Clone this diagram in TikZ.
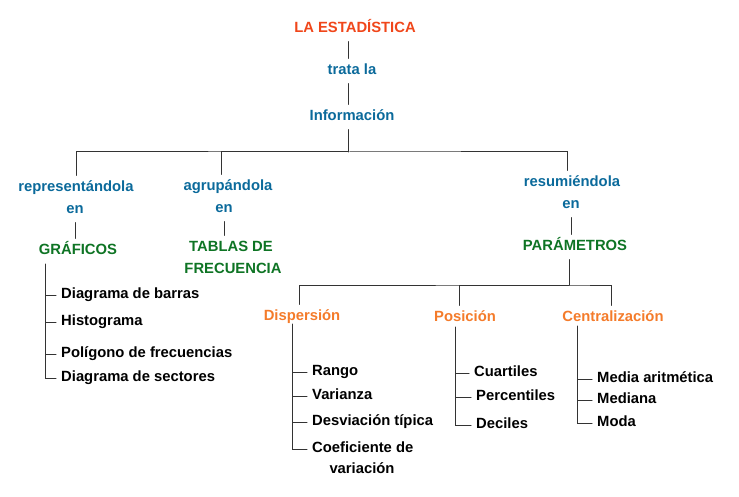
\documentclass[tikz,border=0pt]{standalone}
\usepackage{fontspec}
\setmainfont{Liberation Sans}
\usepackage{tikz}
\usepackage{xcolor}
\definecolor{rojo}{HTML}{F0461A}
\definecolor{azul}{HTML}{0B6A9B}
\definecolor{verde}{HTML}{0E7424}
\definecolor{naranja}{HTML}{F47B2A}
\begin{document}
\begin{tikzpicture}[x=1pt,y=-1pt,line cap=round,
  txt/.style={font=\fontsize{14.8}{17}\selectfont\bfseries,inner xsep=2pt,inner ysep=5.5pt,text height=10.6pt,text depth=3.1pt},
  titulo/.style={txt,text=rojo},
  verbo/.style={txt,text=azul},
  grupo/.style={txt,text=verde},
  tipo/.style={txt,text=naranja},
  hoja/.style={txt,anchor=west,inner xsep=5pt},
  rama/.style={draw=black!80,line width=1pt}]
\useasboundingbox (0,0) rectangle (739,497);
\node[titulo] (estadistica) at (355,29) {LA ESTADÍSTICA};
\node[verbo] (trata) at (352,71) {trata la};
\node[verbo] (informacion) at (352,117) {Información};
\node[verbo] (representa) at (76,188) {representándola};
\node[verbo] (en1) at (75,210) {en};
\node[grupo] (graficos) at (78,251) {GRÁFICOS};
\node[verbo] (agrupa) at (228,187) {agrupándola};
\node[verbo] (en2) at (224,209) {en};
\node[grupo] (tablas) at (231,248) {TABLAS DE};
\node[grupo] (frecuencia) at (233,270) {FRECUENCIA};
\node[verbo] (resume) at (572,183) {resumiéndola};
\node[verbo] (en3) at (571,205) {en};
\node[grupo] (parametros) at (575,247) {PARÁMETROS};
\node[tipo] (dispersion) at (302,317) {Dispersión};
\node[tipo] (posicion) at (465,318) {Posición};
\node[tipo] (centralizacion) at (613,318) {Centralización};
\coordinate (barra) at (348,152);
\coordinate (barra2) at (569,285);
\coordinate (g0) at (45,264);
\coordinate (d0) at (292,324);
\coordinate (p0) at (455,327);
\coordinate (c0) at (577,326);
\node[hoja] (barras) at (56,295) {Diagrama de barras};
\node[hoja] (histograma) at (56,322) {Histograma};
\node[hoja] (poligono) at (56,354) {Polígono de frecuencias};
\node[hoja] (sectores) at (56,378) {Diagrama de sectores};
\node[hoja] (rango) at (307,372) {Rango};
\node[hoja] (varianza) at (307,396) {Varianza};
\node[hoja] (desviacion) at (307,422) {Desviación típica};
\node[hoja] (coeficiente) at (307,449) {Coeficiente de};
\node[txt] (variacion) at (362,470) {variación};
\node[hoja] (cuartiles) at (469,373) {Cuartiles};
\node[hoja] (percentiles) at (471,397) {Percentiles};
\node[hoja] (deciles) at (471,425) {Deciles};
\node[hoja] (media) at (592,379) {Media aritmética};
\node[hoja] (mediana) at (592,400) {Mediana};
\node[hoja] (moda) at (592,423) {Moda};
\draw[rama] ([xshift=-7pt]estadistica.south) -- ([xshift=-4pt]trata.north);
\draw[rama] ([xshift=-4pt]trata.south) -- ([xshift=-4pt]informacion.north);
\draw[rama] ([xshift=-4pt]informacion.south) -- (barra);
\draw[rama] (representa) |- (barra) -| ([xshift=-5pt]resume.north);
\draw[rama] ([xshift=-7pt]agrupa.north) |- (barra);
\draw[rama] (en1) -- (en1 |- graficos.north);
\draw[rama] (en2) -- (en2 |- tablas.north);
\draw[rama] (en3) -- (en3 |- parametros.north);
\draw[rama] ([xshift=-6pt]parametros.south) -- (barra2);
\draw[rama] ([xshift=-3pt]dispersion.north) |- (barra2) -| ([xshift=-2pt]centralizacion.north);
\draw[rama] ([xshift=-6pt]posicion.north) |- (barra2);
\draw[rama] (g0) |- (barras) (g0) |- (histograma) (g0) |- (poligono) (g0) |- (sectores);
\draw[rama] (d0) |- (rango) (d0) |- (varianza) (d0) |- (desviacion) (d0) |- (coeficiente);
\draw[rama] (p0) |- (cuartiles) (p0) |- (percentiles) (p0) |- (deciles);
\draw[rama] (c0) |- (media) (c0) |- (mediana) (c0) |- (moda);
\end{tikzpicture}
\end{document}
